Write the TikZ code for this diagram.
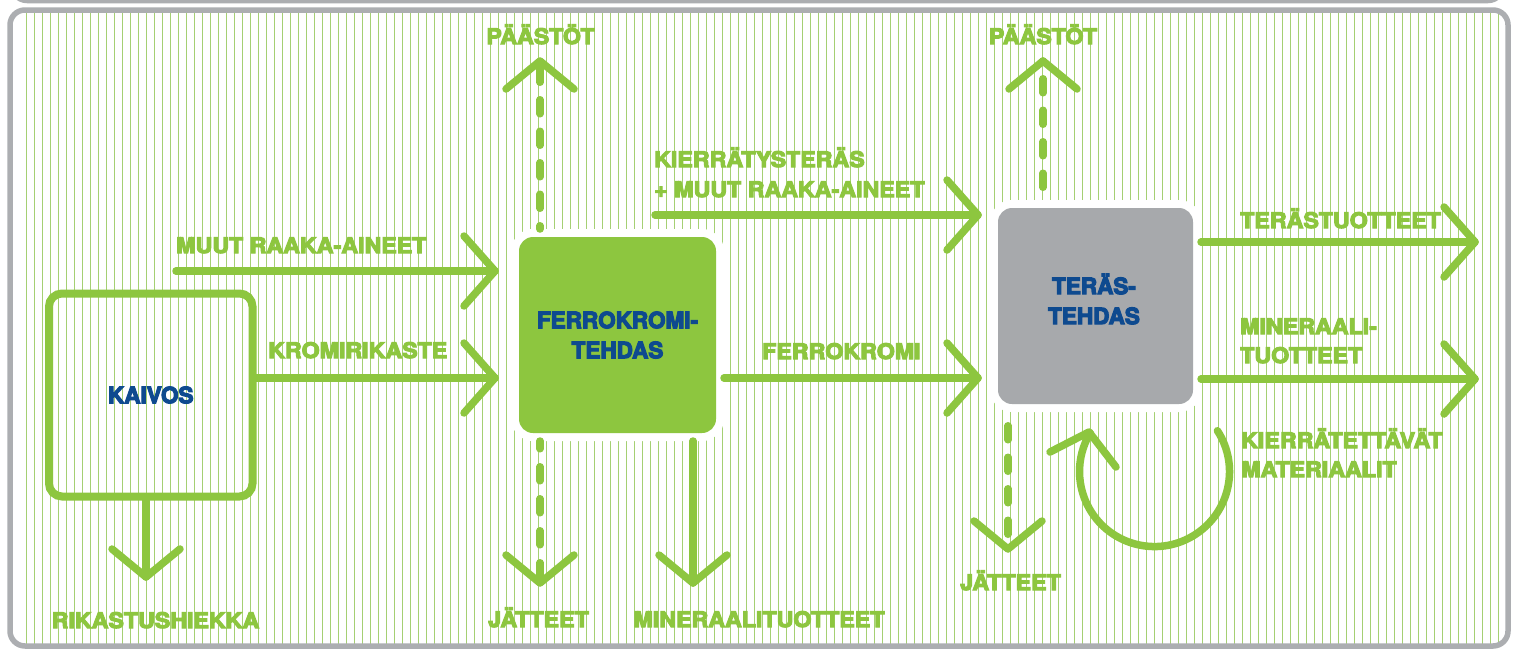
\documentclass[tikz,border=0pt]{standalone}
\usepackage{fontspec}
\setmainfont{TeX Gyre Heros}
\newfontfamily\heavy{TeX Gyre Heros Bold}[FakeBold=5,FakeStretch=1.08]
\newfontfamily\heavyb{TeX Gyre Heros Bold}[FakeBold=5]
\usetikzlibrary{calc}
\definecolor{lgreen}{RGB}{141,198,63}
\definecolor{stripecol}{RGB}{165,208,115}
\definecolor{framegrey}{RGB}{172,174,177}
\definecolor{boxgrey}{RGB}{167,169,172}
\definecolor{dblue}{RGB}{14,74,143}
\newcommand\chevR[1]{\draw[flow] (#1) ++(-31,-35) -- (#1) -- ++(-31,35);}
\newcommand\chevD[1]{\draw[flow] (#1) ++(-34,-28) -- (#1) -- ++(34,-28);}
\newcommand\chevU[1]{\draw[flow] (#1) ++(-34,28) -- (#1) -- ++(34,28);}
\begin{document}
\begin{tikzpicture}[x=1pt,y=1pt,yscale=-1,
  flow/.style={draw=lgreen,line width=7.5pt,line cap=round,line join=round},
  lbl/.style={text=lgreen,inner sep=0pt,font=\heavy\fontsize{21.5}{30}\selectfont},
  boxlbl/.style={text=dblue,font=\heavyb\fontsize{22.5}{30}\selectfont,align=center,inner sep=0pt},
  stripeline/.style={draw=stripecol,line width=0.75pt},
  frameline/.style={draw=framegrey,line width=5.5pt,rounded corners=15pt},
  solidbox/.style={rounded corners=14pt,minimum width=197pt,minimum height=196pt,
    outer sep=8pt,preaction={draw=white,line width=16pt}},
]
\useasboundingbox (0,0) rectangle (1514,648);
\fill[white] (0,0) rectangle (1514,648);
% stripes
\begin{scope}
  \clip[rounded corners=15pt] (10,10) rectangle (1508,646);
  \foreach \i in {0,...,184} \draw[stripeline] ({26+8*\i},0) -- ({26+8*\i},648);
\end{scope}
% frames
\draw[frameline] (12,-40) rectangle (1503,0.5);
\draw[frameline] (10,10) rectangle (1508,646);

% boxes
\node[draw=lgreen,line width=8pt,rounded corners=13pt,minimum width=203.5pt,
  minimum height=203pt,boxlbl] (kaivos) at (150.75,395) {KAIVOS};
\node[solidbox,fill=lgreen,boxlbl] (ferro) at (617.5,335) {FERROKROMI-\\TEHDAS};
\node[solidbox,fill=boxgrey,minimum width=195pt] (teras) at (1095.5,306) {};
\node[boxlbl] (terasTxt) at (1094,299) {TERÄS-\\TEHDAS};

% arrow end points
\coordinate (mraS) at (176,271);
\coordinate (mraE) at (495,271);
\coordinate (kroE) at (495,378);
\coordinate (fkE) at (978,378);
\coordinate (kieS) at (655,215);
\coordinate (kieE) at (978,215);
\coordinate (tuoE) at (1475,242);
\coordinate (minE) at (1475,379);
\coordinate (hieE) at (146,577);
\coordinate (fpE) at (540,61);
\coordinate (fjE) at (540,583);
\coordinate (fmE) at (693,583);
\coordinate (tpE) at (1043,61);
\coordinate (tjE) at (1008,549);
\coordinate (recS) at (1217.4,430.7);
\coordinate (recE) at (1089,432);

% solid arrows
\draw[flow] (mraS) -- (mraE); \chevR{mraE}
\draw[flow] (kaivos.east |- kroE) -- (kroE); \chevR{kroE}
\draw[flow] (ferro.east |- fkE) -- (fkE); \chevR{fkE}
\draw[flow] (kieS) -- (kieE); \chevR{kieE}
\draw[flow] (teras.east |- tuoE) -- (tuoE); \chevR{tuoE}
\draw[flow] (teras.east |- minE) -- (minE); \chevR{minE}
\draw[flow] (hieE |- kaivos.south) -- (hieE); \chevD{hieE}
\draw[flow] (fmE |- ferro.south) -- (fmE); \chevD{fmE}

% dashed arrows
\draw[flow,dash pattern=on 14pt off 17.5pt,dash phase=24.25pt] (fpE) -- (fpE |- ferro.north); \chevU{fpE}
\draw[flow,dash pattern=on 14pt off 18pt,dash phase=6.25pt] (fjE |- ferro.south) -- (fjE); \chevD{fjE}
\draw[flow,dash pattern=on 14pt off 17.5pt,dash phase=13.75pt] (tpE) -- (tpE |- teras.north); \chevU{tpE}
\draw[flow,dash pattern=on 14pt off 17.5pt,dash phase=17.75pt] (tjE |- teras.south) -- (tjE); \chevD{tjE}

% recycling loop
\draw[flow] (recS) arc[start angle=-33,end angle=211,radius=75pt];
\draw[flow] (1050,452) -- (recE) -- (1116,467);

% labels
\node[lbl,anchor=base west] (lMra) at (176,253) {MUUT RAAKA-AINEET};
\node[lbl,anchor=base west] (lKro) at (268,358) {KROMIRIKASTE};
\node[lbl,anchor=base west] (lKie1) at (654,167) {KIERRÄTYSTERÄS};
\node[lbl,anchor=base west] (lKie2) at (654,197) {+ MUUT RAAKA-AINEET};
\node[lbl,anchor=base west] (lFk) at (762,359) {FERROKROMI};
\node[lbl,anchor=base west] (lTuo) at (1240,228) {TERÄSTUOTTEET};
\node[lbl,anchor=base west] (lMin1) at (1240,334) {MINERAALI-};
\node[lbl,anchor=base west] (lMin2) at (1240,363) {TUOTTEET};
\node[lbl,anchor=base west] (lKm1) at (1241,448) {KIERRÄTETTÄVÄT};
\node[lbl,anchor=base west] (lKm2) at (1241,477) {MATERIAALIT};
\node[lbl,anchor=base] (lHie) at (155.5,628) {RIKASTUSHIEKKA};
\node[lbl,anchor=base] (lFj) at (538.5,627) {JÄTTEET};
\node[lbl,anchor=base] (lFm) at (759,627) {MINERAALITUOTTEET};
\node[lbl,anchor=base] (lFp) at (540.5,44) {PÄÄSTÖT};
\node[lbl,anchor=base] (lTp) at (1043,44) {PÄÄSTÖT};
\node[lbl,anchor=base] (lTj) at (1010.5,590) {JÄTTEET};
\end{tikzpicture}
\end{document}
